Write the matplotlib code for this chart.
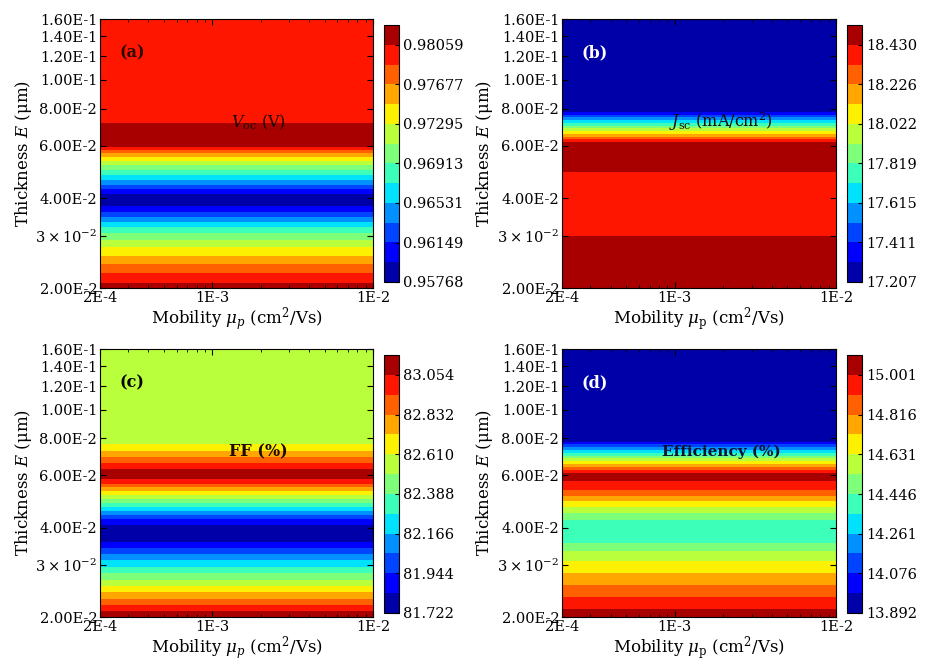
import numpy as np
import matplotlib
matplotlib.use("Agg")
import matplotlib.pyplot as plt
from matplotlib.ticker import NullFormatter, LogLocator, NullLocator

plt.rcParams['font.family'] = ['DejaVu Serif']
plt.rcParams['mathtext.fontset'] = 'dejavuserif'

# ---- data -------------------------------------------------------------
mobility = [2e-4, 5e-4, 1e-3, 2e-3, 5e-3, 1e-2]  # cm^2/Vs

thickness = [0.020, 0.021, 0.022, 0.023, 0.024, 0.025, 0.026, 0.027, 0.028, 0.029,
             0.030, 0.032, 0.034, 0.036, 0.038, 0.040, 0.042, 0.044, 0.046, 0.048,
             0.050, 0.052, 0.054, 0.056, 0.058, 0.060, 0.062, 0.064, 0.066, 0.068,
             0.070, 0.072, 0.074, 0.076, 0.078, 0.080, 0.090, 0.100, 0.120, 0.140, 0.160]

voc = [0.98149, 0.98029, 0.97914, 0.97805, 0.97696, 0.97559, 0.97437, 0.97343, 0.97232, 0.97104,
       0.97000, 0.96738, 0.96444, 0.96161, 0.95902, 0.95844, 0.96035, 0.96303, 0.96520, 0.96730,
       0.96933, 0.97143, 0.97379, 0.97582, 0.97849, 0.98116, 0.98160, 0.98170, 0.98170, 0.98160,
       0.98120, 0.98030, 0.97970, 0.97970, 0.97970, 0.97970, 0.97970, 0.97970, 0.97970, 0.97970, 0.97970]

jsc = [18.500, 18.495, 18.490, 18.485, 18.480, 18.480, 18.470, 18.460, 18.450, 18.440,
       18.428, 18.420, 18.410, 18.400, 18.390, 18.390, 18.390, 18.390, 18.400, 18.420,
       18.440, 18.450, 18.460, 18.470, 18.480, 18.480, 18.420, 18.263, 18.117, 17.971,
       17.833, 17.694, 17.563, 17.432, 17.305, 17.250, 17.240, 17.235, 17.230, 17.225, 17.220]

ff = [83.151, 83.042, 82.938, 82.839, 82.743, 82.652, 82.563, 82.478, 82.397, 82.319,
      82.242, 82.097, 81.961, 81.820, 81.750, 81.780, 81.891, 82.057, 82.215, 82.367,
      82.514, 82.655, 82.791, 82.921, 83.050, 83.100, 83.090, 83.030, 82.950, 82.870,
      82.800, 82.740, 82.680, 82.620, 82.580, 82.560, 82.560, 82.560, 82.560, 82.560, 82.560]

eff = [15.060, 15.014, 14.968, 14.924, 14.881, 14.841, 14.802, 14.764, 14.728, 14.694,
       14.660, 14.587, 14.515, 14.430, 14.390, 14.400, 14.430, 14.500, 14.590, 14.670,
       14.760, 14.850, 14.920, 14.970, 15.020, 15.040, 14.958, 14.820, 14.692, 14.565,
       14.443, 14.322, 14.207, 14.092, 13.980, 13.930, 13.925, 13.920, 13.915, 13.910, 13.905]

voc_ticks = [0.95768, 0.96149, 0.96531, 0.96913, 0.97295, 0.97677, 0.98059]
voc_ticklabels = ['0.95768', '0.96149', '0.96531', '0.96913', '0.97295', '0.97677', '0.98059']
jsc_ticks = [17.207, 17.411, 17.615, 17.819, 18.022, 18.226, 18.430]
jsc_ticklabels = ['17.207', '17.411', '17.615', '17.819', '18.022', '18.226', '18.430']
ff_ticks = [81.722, 81.944, 82.166, 82.388, 82.610, 82.832, 83.054]
ff_ticklabels = ['81.722', '81.944', '82.166', '82.388', '82.610', '82.832', '83.054']
eff_ticks = [13.892, 14.076, 14.261, 14.446, 14.631, 14.816, 15.001]
eff_ticklabels = ['13.892', '14.076', '14.261', '14.446', '14.631', '14.816', '15.001']

y_ticks = [0.02, 0.03, 0.04, 0.06, 0.08, 0.10, 0.12, 0.14, 0.16]
y_ticklabels = ['2.00E-2', r'$3\times10^{-2}$', '4.00E-2', '6.00E-2', '8.00E-2',
                '1.00E-1', '1.20E-1', '1.40E-1', '1.60E-1']
x_ticks = [2e-4, 1e-3, 1e-2]
x_ticklabels = ['2E-4', '1E-3', '1E-2']

panel_letters = ['(a)', '(b)', '(c)', '(d)']
panel_titles = [r'$V_{\mathrm{oc}}$ (V)', r'$J_{\mathrm{sc}}$ (mA/cm$^2$)',
                r'FF (%)', r'Efficiency (%)']

# ---- figure -----------------------------------------------------------
W, H = 927, 661
fig = plt.figure(figsize=(W / 100, H / 100), dpi=100)

def frac(l, t, r, b):
    return [l / W, 1 - b / H, (r - l) / W, (b - t) / H]

ax_boxes = [frac(100, 19, 373, 288), frac(562, 19, 836, 288),
            frac(100, 349, 373, 617), frac(562, 349, 836, 617)]
cb_boxes = [frac(384, 25, 399, 282), frac(847, 25, 862, 282),
            frac(384, 355, 399, 613), frac(847, 355, 862, 613)]

series = [voc, jsc, ff, eff]
ticks_all = [voc_ticks, jsc_ticks, ff_ticks, eff_ticks]
ticklabels_all = [voc_ticklabels, jsc_ticklabels, ff_ticklabels, eff_ticklabels]
letter_colors = ['#2a0a00', 'white', 'black', 'white']
title_bold = [False, False, True, True]
title_sizes = [11.5, 11.5, 11.5, 11]
xlabels = [r'Mobility $\mu_p$ (cm$^2$/Vs)', r'Mobility $\mu_\mathrm{p}$ (cm$^2$/Vs)',
           r'Mobility $\mu_p$ (cm$^2$/Vs)', r'Mobility $\mu_\mathrm{p}$ (cm$^2$/Vs)']

X, Y = np.meshgrid(np.array(mobility), np.array(thickness))

for i in range(4):
    ax = fig.add_axes(ax_boxes[i])
    cax = fig.add_axes(cb_boxes[i])
    vals = np.array(series[i])
    Z = np.repeat(vals[:, None], len(mobility), axis=1)
    tk = ticks_all[i]
    levels = np.linspace(tk[0], tk[-1] + (tk[-1] - tk[0]) / 12.0, 14)
    cf = ax.contourf(X, Y, Z, levels=levels, cmap='jet', extend='neither',
                     antialiased=False)
    ax.set_xscale('log')
    ax.set_yscale('log')
    ax.set_xlim(2e-4, 1e-2)
    ax.set_ylim(0.02, 0.16)
    ax.set_yticks(y_ticks)
    ax.set_yticklabels(y_ticklabels)
    ax.yaxis.set_minor_formatter(NullFormatter())
    ax.yaxis.set_minor_locator(NullLocator())
    ax.set_xticks(x_ticks)
    ax.set_xticklabels(x_ticklabels)
    ax.xaxis.set_minor_locator(LogLocator(base=10, subs=np.arange(2, 10)))
    ax.xaxis.set_minor_formatter(NullFormatter())
    ax.tick_params(axis='both', which='major', direction='in', length=4,
                   top=True, right=True, labelsize=10.5, pad=2)
    ax.tick_params(axis='both', which='minor', direction='in', length=2,
                   top=True, right=True)
    ax.set_ylabel(r'Thickness $E$ ($\mathrm{\mu}$m)', fontsize=12)
    ax.yaxis.set_label_coords(-0.243, 0.5)
    ax.set_xlabel(xlabels[i], fontsize=12, labelpad=0)
    for s in ax.spines.values():
        s.set_linewidth(0.8)

    ax.text(0.072, 0.875, panel_letters[i], transform=ax.transAxes,
            fontsize=11.5, fontweight='bold', color=letter_colors[i],
            ha='left', va='center')
    ax.text(0.58, 0.617, panel_titles[i], transform=ax.transAxes,
            fontsize=title_sizes[i], fontweight='bold' if title_bold[i] else 'normal',
            color='#1a0a00' if i != 3 else '#101030', ha='center', va='center')

    cb = fig.colorbar(cf, cax=cax, ticks=tk)
    cb.ax.set_yticklabels(ticklabels_all[i])
    cb.ax.tick_params(labelsize=10.5, direction='in', length=3, width=0.8, pad=3)
    cb.outline.set_linewidth(0.8)

fig.savefig('out.png', dpi=100)
